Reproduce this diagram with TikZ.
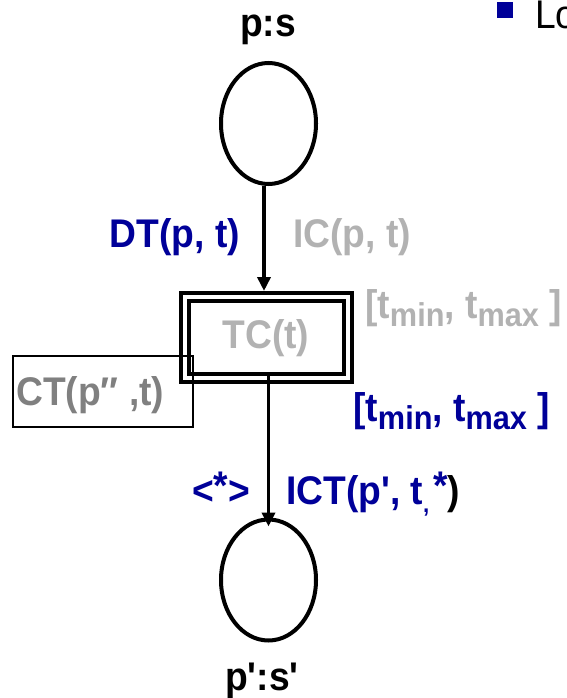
\documentclass[tikz,border=0pt]{standalone}
\usepackage{fontspec}
\setmainfont{Liberation Sans}[FakeStretch=0.93, Ligatures=TeXOff]
\usetikzlibrary{shapes.geometric,arrows.meta}
\definecolor{dblue}{RGB}{0,0,153}
\definecolor{lgray}{RGB}{178,178,178}
\definecolor{mgray}{RGB}{128,128,128}
\newcommand{\sbx}[1]{\raisebox{-8pt}{\fontsize{33}{33}\selectfont #1}}
\newcommand{\spx}[1]{\raisebox{5pt}{#1}}
\begin{document}
\begin{tikzpicture}[x=1pt,y=-1pt,
  lbl/.style={inner sep=0pt, font=\fontsize{40}{44}\selectfont\bfseries},
  place/.style={draw, ellipse, line width=4pt, minimum width=95pt, minimum height=121pt, inner sep=0pt},
  trans/.style={draw, double, line width=4pt, double distance=4pt, minimum width=163pt, minimum height=81pt, inner sep=0pt, outer sep=6pt},
  arc/.style={line width=3.5pt, -{Triangle[length=14pt,width=13pt]}},
  ctbox/.style={draw, line width=1.5pt, minimum width=180pt, minimum height=71pt, inner sep=0pt}
]
\useasboundingbox (0,0) rectangle (566,698);
\clip (0,0) rectangle (566,698);
% places and transition
\node[place] (p1) at (268.5,123.5) {};
\node[place] (p2) at (268.5,580) {};
\node[trans] (t1) at (266.5,337.5) {};
\node[ctbox] (ctb) at (103,391.5) {};
% connectors
\coordinate (tn) at ([xshift=-2.5pt]t1.north);
\draw[arc] (p1.south -| tn) -- (tn);
\coordinate (bs) at ([xshift=2pt,yshift=8pt]t1.south);
\coordinate (p2n) at ([yshift=-9pt]p2.north);
\draw[arc] (bs) -- (bs |- p2n);
% labels
\node[lbl, anchor=base] (ps) at (268,37) {p:s};
\node[lbl, anchor=base east, text=dblue] (dt) at (240,247) {DT(p, t)};
\node[lbl, anchor=base west, text=lgray] (ic) at (293,247) {IC(p, t)};
\node[lbl, anchor=base, text=lgray] (tc) at (266,348) {TC(t)};
\node[lbl, anchor=base west, text=lgray] (gi) at (365,318) {[t\sbx{min}, t\sbx{max} ]};
\node[lbl, anchor=base west, text=dblue] (bi) at (353,421) {[t\sbx{min}, t\sbx{max} ]};
\node[lbl, anchor=base west, text=mgray] (ct) at (16,405) {CT(p″ ,t)};
\node[lbl, anchor=base west, text=dblue] (st) at (192,504) {<\spx{*}>};
\node[lbl, anchor=base west, text=dblue] (ict) at (286,504) {ICT(p', t\raisebox{-8pt}{\fontsize{24}{24}\selectfont,}\hspace{4pt}\spx{*}\textcolor{black}{)}};
\node[lbl, anchor=base] (pps) at (262,690) {p':s'};
% slide fragment top right
\fill[dblue] (497,2) rectangle (513,18);
\node[anchor=base west, inner sep=0pt, font=\fontsize{40}{44}\selectfont] (lo) at (535,29) {Lo};
\end{tikzpicture}
\end{document}
